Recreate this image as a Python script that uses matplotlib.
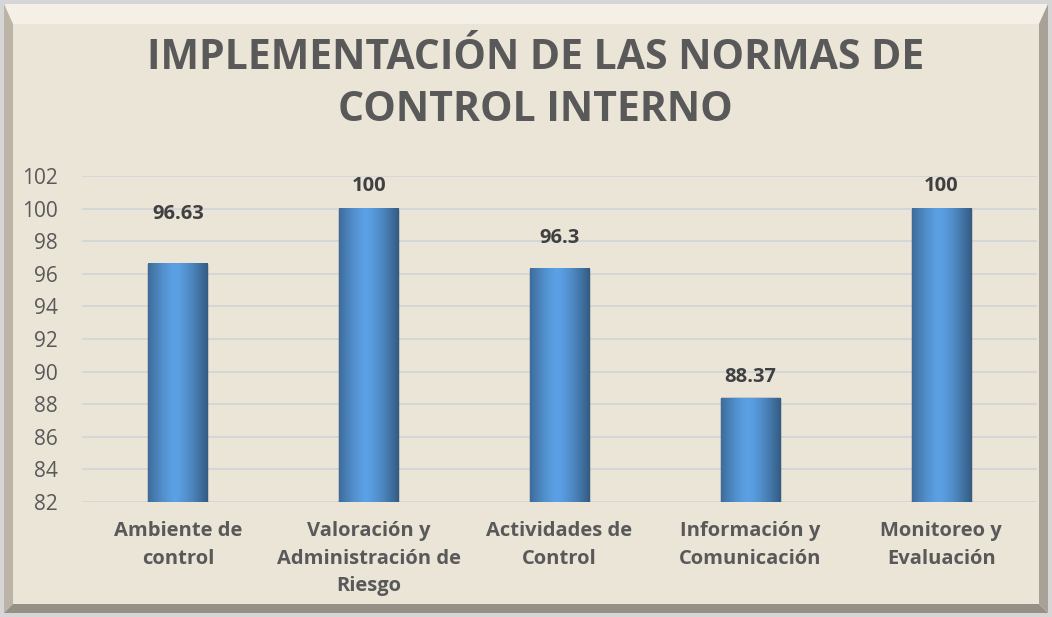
import numpy as np
import matplotlib.pyplot as plt
from matplotlib.patches import Polygon, Rectangle

# Data
categories = ["Ambiente de\ncontrol",
              "Valoración y\nAdministración de\nRiesgo",
              "Actividades de\nControl",
              "Información y\nComunicación",
              "Monitoreo y\nEvaluación"]
values = [96.63, 100, 96.3, 88.37, 100]
value_labels = ["96.63", "100", "96.3", "88.37", "100"]
yticks = list(range(82, 103, 2))

plt.rcParams['font.family'] = ['Open Sans', 'DejaVu Sans']

bg = "#ebe5d8"
text_col = "#595959"
W, H = 1052, 617

fig = plt.figure(figsize=(W / 100, H / 100), dpi=100, facecolor=bg)


def px(pts):
    # pixel coords (origin top-left) -> figure fraction
    return [(x / W, 1 - y / H) for x, y in pts]


# beveled frame: inner edges (left, top, right, bottom) in pixels
o = 4
il, it, ir, ib = 13, 24, W - 13, H - 13
fig.patches.append(Rectangle((0, 0), 1, 1, transform=fig.transFigure,
                             fill=False, edgecolor="#d6d6d6", linewidth=8, zorder=0))
bevels = [
    ([(o, o), (W - o, o), (ir, it), (il, it)], "#f4f0e7"),
    ([(o, o), (il, it), (il, ib), (o, H - o)], "#bcb4a7"),
    ([(o, H - o), (il, ib), (ir, ib), (W - o, H - o)], "#958f85"),
    ([(W - o, o), (W - o, H - o), (ir, ib), (ir, it)], "#a8a195"),
]
for pts, c in bevels:
    fig.patches.append(Polygon(px(pts), closed=True, transform=fig.transFigure,
                               facecolor=c, edgecolor="none", zorder=0))

ax = fig.add_axes([0.0784, 0.1864, 0.907, 0.5283])
ax.set_facecolor("none")

x = np.arange(len(categories))
width = 0.31
bars = ax.bar(x, values, width=width, color="#4a8ad4", edgecolor="#1f3f66",
              linewidth=1.0, zorder=3)

# horizontal shading inside each bar to imitate the bevel look
grad = np.linspace(0, 1, 64)
shade = 1 - 0.5 * np.abs(grad - 0.45) ** 1.4 * 2
shade = np.clip(shade, 0.45, 1.0)
img = np.zeros((1, 64, 3))
base = np.array([0.36, 0.63, 0.90])
img[0] = base[None, :] * shade[:, None]
for bar in bars:
    x0 = bar.get_x()
    ax.imshow(img, extent=(x0, x0 + bar.get_width(), 82, bar.get_height()),
              aspect="auto", zorder=4, interpolation="bilinear")

# label offsets as placed in the reference
label_gap = [2.4, 0.8, 1.3, 0.7, 0.8]
for xi, v, lab, g in zip(x, values, value_labels, label_gap):
    ax.text(xi, v + g, lab, ha="center", va="bottom", fontsize=14.5,
            fontweight="bold", color="#404040", zorder=5)

ax.set_xlim(-0.5, len(categories) - 0.5)
ax.set_ylim(82, 102)
ax.set_yticks(yticks)
ax.set_yticklabels([str(t) for t in yticks], fontsize=15, color=text_col)
ax.set_xticks(x)
ax.set_xticklabels(categories, fontsize=14.5, fontweight="bold", color=text_col,
                   va="top", linespacing=1.5)
ax.tick_params(axis="both", length=0)
ax.tick_params(axis="x", pad=14)
ax.tick_params(axis="y", pad=18)
ax.grid(axis="y", color="#d0d3d8", linewidth=1.2, zorder=1)
for s in ax.spines.values():
    s.set_visible(False)

fig.text(0.509, 0.863, "IMPLEMENTACIÓN DE LAS NORMAS DE\nCONTROL INTERNO",
         ha="center", va="center", fontsize=29.5, fontweight="bold",
         color=text_col, linespacing=1.38)

fig.savefig("out.png", dpi=100, facecolor=bg)
